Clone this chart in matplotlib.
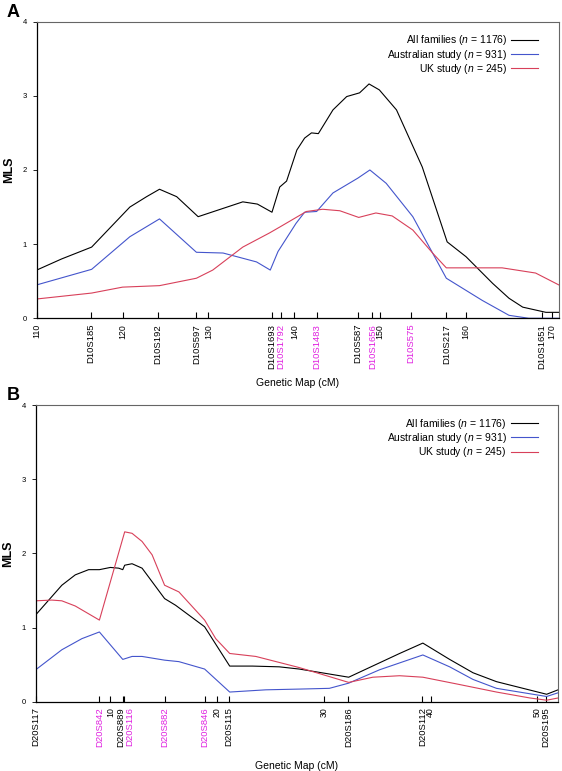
import matplotlib.pyplot as plt

plt.rcParams['font.family'] = ['Liberation Sans', 'DejaVu Sans']
plt.rcParams['mathtext.fontset'] = 'custom'
plt.rcParams['mathtext.it'] = 'Liberation Sans:italic'

# ---- panel A : chromosome 10 ----
a_all_cm = [110.0, 112.9, 116.4, 120.85, 122.8, 124.3, 126.3, 128.8, 134.0, 135.7, 137.4, 138.3,
            139.1, 140.3, 141.2, 142.0, 142.8, 144.5, 146.1, 147.6, 148.7, 149.9, 151.9, 154.9,
            157.8, 160.0, 163.1, 165.0, 166.6, 169.3, 170.8]
a_all = [0.65, 0.80, 0.96, 1.50, 1.64, 1.74, 1.64, 1.37, 1.57, 1.54, 1.43, 1.77,
         1.85, 2.27, 2.43, 2.50, 2.49, 2.81, 2.99, 3.04, 3.16, 3.08, 2.81, 2.04,
         1.03, 0.83, 0.47, 0.27, 0.15, 0.08, 0.08]
a_aus_cm = [110.0, 116.4, 120.85, 124.3, 128.6, 131.7, 135.6, 137.2, 138.1, 140.2, 141.2, 142.6,
            144.5, 147.4, 148.8, 150.7, 153.8, 157.7, 161.9, 165.0, 167.3, 170.8]
a_aus = [0.45, 0.66, 1.10, 1.34, 0.89, 0.88, 0.76, 0.65, 0.90, 1.28, 1.43, 1.44,
         1.69, 1.89, 2.00, 1.82, 1.37, 0.54, 0.24, 0.04, 0.0, 0.0]
a_uk_cm = [110.0, 116.4, 120.0, 124.3, 128.6, 130.5, 134.0, 137.1, 138.3, 141.4, 143.3, 145.3,
           147.5, 149.5, 151.4, 153.8, 156.1, 157.7, 161.2, 164.2, 168.1, 170.8]
a_uk = [0.26, 0.34, 0.42, 0.44, 0.54, 0.65, 0.96, 1.15, 1.23, 1.44, 1.47, 1.45,
        1.36, 1.42, 1.38, 1.19, 0.88, 0.68, 0.68, 0.68, 0.61, 0.45]
a_num_ticks = [110, 120, 130, 140, 150, 160, 170]
a_markers = ['D10S185', 'D10S192', 'D10S597', 'D10S1693', 'D10S1792', 'D10S1483',
             'D10S587', 'D10S1656', 'D10S575', 'D10S217', 'D10S1651']
a_marker_cm = [116.3, 124.1, 128.6, 137.4, 138.4, 142.6, 147.4, 149.1, 153.6, 157.7, 168.8]
a_magenta = ['D10S1792', 'D10S1483', 'D10S1656', 'D10S575']

# ---- panel B : chromosome 20 ----
b_all_cm = [3.0, 5.45, 6.71, 7.96, 8.97, 10.0, 10.78, 11.16, 11.34, 12.03, 12.97, 15.08, 16.11,
            18.83, 21.18, 23.31, 25.82, 27.7, 32.33, 37.1, 39.28, 41.79, 43.98, 46.18, 50.88, 51.95]
b_all = [1.17, 1.57, 1.71, 1.78, 1.78, 1.81, 1.80, 1.78, 1.84, 1.86, 1.80, 1.39, 1.30,
         1.01, 0.48, 0.48, 0.47, 0.44, 0.33, 0.65, 0.79, 0.57, 0.39, 0.27, 0.10, 0.16]
b_aus_cm = [3.0, 5.45, 7.33, 8.97, 11.16, 12.03, 12.97, 15.08, 16.42, 18.83, 21.18, 24.57,
            27.7, 30.52, 32.33, 35.22, 39.28, 41.79, 43.98, 46.18, 50.88, 51.95]
b_aus = [0.43, 0.70, 0.85, 0.94, 0.57, 0.61, 0.61, 0.56, 0.54, 0.44, 0.13, 0.16,
         0.17, 0.18, 0.25, 0.43, 0.63, 0.47, 0.30, 0.18, 0.07, 0.12]
b_uk_cm = [3.0, 4.51, 5.45, 6.71, 8.97, 11.34, 12.03, 12.97, 13.91, 15.08, 16.42, 18.83, 19.87,
           21.18, 23.63, 27.7, 32.33, 34.59, 37.1, 39.28, 42.42, 46.18, 49.31, 50.88, 51.95]
b_uk = [1.36, 1.37, 1.36, 1.29, 1.10, 2.29, 2.27, 2.16, 1.98, 1.57, 1.48, 1.10, 0.85,
        0.65, 0.61, 0.46, 0.26, 0.33, 0.35, 0.33, 0.24, 0.13, 0.05, 0.02, 0.05]
b_num_ticks = [10, 20, 30, 40, 50]
b_markers = ['D20S117', 'D20S842', 'D20S889', 'D20S116', 'D20S882', 'D20S846',
             'D20S115', 'D20S186', 'D20S112', 'D20S195']
b_marker_cm = [3.0, 8.97, 11.16, 11.32, 15.08, 18.83, 21.12, 32.3, 39.23, 50.79]
b_magenta = ['D20S842', 'D20S116', 'D20S882', 'D20S846']
# labels nudged sideways (in cM) so the two close markers stay readable
b_label_shift = {'D20S889': -0.22, 'D20S116': 0.45}

legend_labels = ['All families ($n$ = 1176)', 'Australian study ($n$ = 931)', 'UK study ($n$ = 245)']
line_colors = ['black', '#4455cc', '#d8405a']

fig = plt.figure(figsize=(5.62, 7.71), dpi=100)


def style_label(t, magenta):
    s = t.get_text()
    t.set_fontsize(6.3 if s.isdigit() else 6.8)
    if s in magenta:
        t.set_color('#e020e0')


def draw_panel(rect, letter, curves, xlim, num_ticks, markers, marker_cm, magenta, shift=None):
    shift = shift or {}
    ax = fig.add_axes(rect)
    for (xs, ys), col, lab in zip(curves, line_colors, legend_labels):
        ax.plot(xs, ys, color=col, lw=0.8, label=lab)
    ax.set_xlim(*xlim)
    ax.set_ylim(0, 4)
    ax.set_yticks([0, 1, 2, 3, 4])
    ax.tick_params(axis='y', labelsize=5.5, length=3, width=0.6, pad=4)

    pos = list(num_ticks) + list(marker_cm)
    labs = [str(n) for n in num_ticks] + [m if m not in shift else '' for m in markers]
    ax.set_xticks(pos)
    ax.set_xticklabels(labs, rotation=90, va='top')
    ax.tick_params(axis='x', direction='in', length=4, width=0.8, pad=4)
    for t in ax.get_xticklabels():
        style_label(t, magenta)

    if shift:
        moved = [m for m in markers if m in shift]
        mpos = [marker_cm[markers.index(m)] + shift[m] for m in moved]
        ax.set_xticks(mpos, minor=True)
        ax.set_xticklabels(moved, minor=True, rotation=90, va='top')
        ax.tick_params(axis='x', which='minor', direction='in', length=0, pad=4)
        for t in ax.get_xticklabels(minor=True):
            style_label(t, magenta)

    for side in ['top', 'right']:
        ax.spines[side].set_color('#666666')
        ax.spines[side].set_linewidth(0.8)
    for side in ['left', 'bottom']:
        ax.spines[side].set_linewidth(0.9)

    ax.set_ylabel('MLS', fontsize=9, fontweight='bold')
    ax.yaxis.set_label_coords(-0.042, 0.5)
    ax.set_xlabel('Genetic Map (cM)', fontsize=7.5)
    ax.xaxis.set_label_coords(0.5, -0.2)

    ax.legend(loc='upper right', frameon=False, markerfirst=False, fontsize=7.5,
              handlelength=2.6, handletextpad=0.4, labelspacing=0.02,
              borderaxespad=0.3, bbox_to_anchor=(0.975, 0.985))
    fig.text(0.012, rect[1] + rect[3] + 0.006, letter, fontsize=13, fontweight='bold')
    return ax


draw_panel([0.0653, 0.5872, 0.929, 0.3847], 'A',
           [(a_all_cm, a_all), (a_aus_cm, a_aus), (a_uk_cm, a_uk)],
           (110, 170.8), a_num_ticks, a_markers, a_marker_cm, a_magenta)
draw_panel([0.0635, 0.0899, 0.9295, 0.3848], 'B',
           [(b_all_cm, b_all), (b_aus_cm, b_aus), (b_uk_cm, b_uk)],
           (3.0, 51.95), b_num_ticks, b_markers, b_marker_cm, b_magenta, b_label_shift)

fig.savefig('out.png', dpi=100)
